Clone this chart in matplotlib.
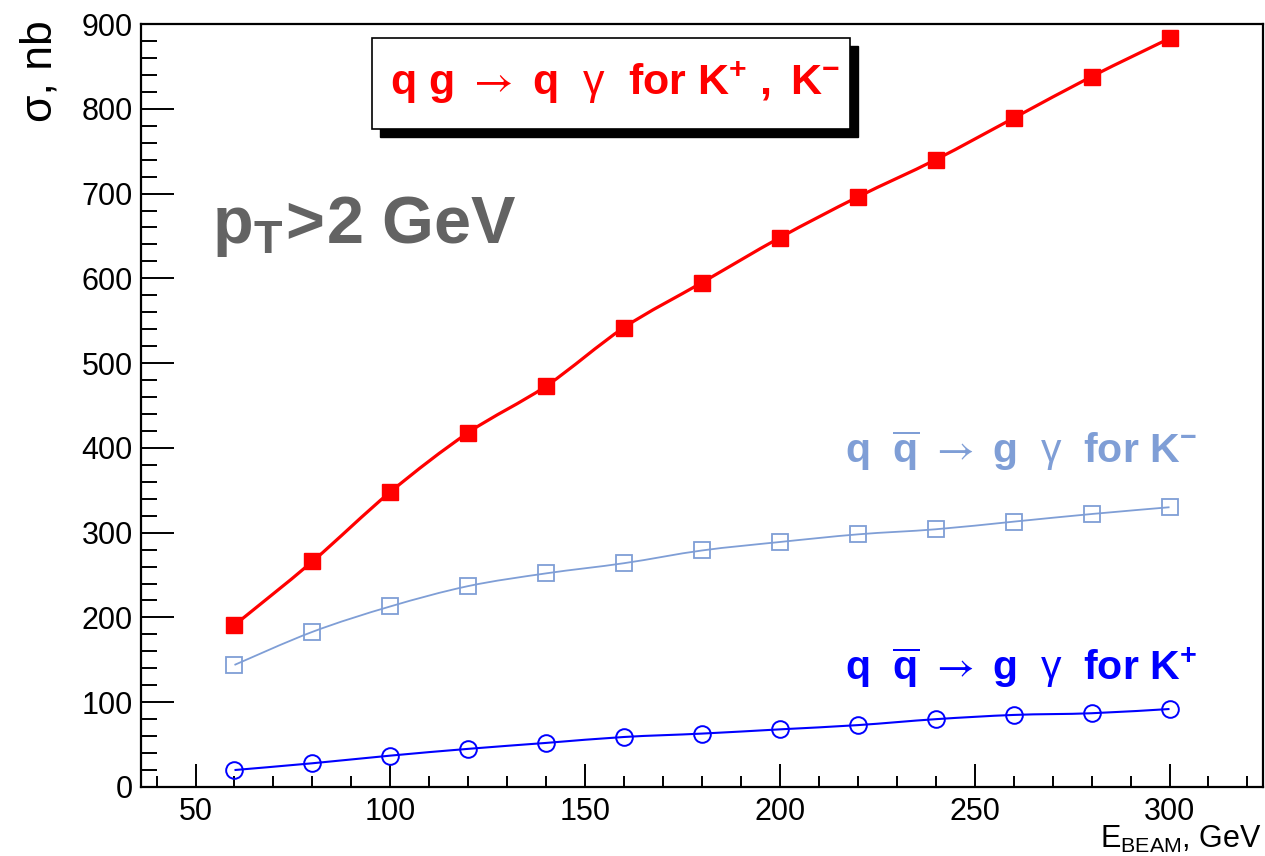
import matplotlib
matplotlib.use('Agg')
import matplotlib.pyplot as plt
from matplotlib.path import Path
from matplotlib.patches import PathPatch, Rectangle
from matplotlib.ticker import MultipleLocator
import numpy as np

# ---- data ----
E_beam = [60, 80, 100, 120, 140, 160, 180, 200, 220, 240, 260, 280, 300]
qg_K = [191, 266, 348, 418, 473, 542, 595, 648, 696, 740, 789, 838, 883]
qqbar_Kminus = [144, 183, 213, 237, 252, 264, 279, 289, 298, 304, 313, 322, 330]
qqbar_Kplus = [20, 28, 37, 45, 52, 59, 63, 68, 73, 80, 85, 87, 92]

label_qg = r"$\mathrm{q\ g\ }\mathcal{\rightarrow}\mathrm{\ q\ \ }\gamma\mathrm{\ \ for\ K^{+}\ ,\ K^{-}}$"
label_km = r"$\mathrm{q\ \ \overline{q}\ }\mathcal{\rightarrow}\mathrm{\ g\ \ }\gamma\mathrm{\ \ for\ K^{-}}$"
label_kp = r"$\mathrm{q\ \ \overline{q}\ }\mathcal{\rightarrow}\mathrm{\ g\ \ }\gamma\mathrm{\ \ for\ K^{+}}$"
label_cut = r"$\mathrm{p_{T}\!>\!2\ GeV}$"
xlabel = r"E$_{\mathsf{BEAM}}$, GeV"
ylabel = "σ, nb"

RED = '#ff0000'
LBLUE = '#7f9ed6'
BLUE = '#0000ff'
GRAY = '#636363'

plt.rcParams['font.family'] = ['Liberation Sans', 'DejaVu Sans']
plt.rcParams['mathtext.fontset'] = 'custom'
plt.rcParams['mathtext.rm'] = 'Liberation Sans:bold'
plt.rcParams['mathtext.bf'] = 'Liberation Sans:bold'
plt.rcParams['mathtext.it'] = 'Liberation Sans'
plt.rcParams['mathtext.sf'] = 'Liberation Sans'
plt.rcParams['mathtext.cal'] = 'STIXGeneral'

W, H = 1265, 856
fig = plt.figure(figsize=(W / 100, H / 100), dpi=100)
ax = fig.add_axes([141 / W, 1 - 787 / H, (1263 - 141) / W, (787 - 24) / H])
ax.set_xlim(36, 324)
ax.set_ylim(0, 900)


def smooth_path(xs, ys):
    p = np.column_stack([xs, ys]).astype(float)
    n = len(p)
    verts = [p[0]]
    codes = [Path.MOVETO]
    for i in range(n - 1):
        p0 = p[i - 1] if i > 0 else p[i]
        p1 = p[i]
        p2 = p[i + 1]
        p3 = p[i + 2] if i + 2 < n else p[i + 1]
        c1 = p1 + (p2 - p0) / 6.0
        c2 = p2 - (p3 - p1) / 6.0
        verts += [c1, c2, p2]
        codes += [Path.CURVE4] * 3
    return Path(verts, codes)


for ys, col, lw in [(qg_K, RED, 2.3), (qqbar_Kminus, LBLUE, 1.3), (qqbar_Kplus, BLUE, 1.5)]:
    ax.add_patch(PathPatch(smooth_path(E_beam, ys), facecolor='none', edgecolor=col, lw=lw, zorder=2))

ax.plot(E_beam, qg_K, ls='none', marker='s', ms=11, mfc=RED, mec=RED, zorder=3)
ax.plot(E_beam, qqbar_Kminus, ls='none', marker='s', ms=11.5, mfc='none', mec=LBLUE, mew=1.3, zorder=3)
ax.plot(E_beam, qqbar_Kplus, ls='none', marker='o', ms=12, mfc='none', mec=BLUE, mew=1.4, zorder=3)

# ticks
ax.xaxis.set_major_locator(MultipleLocator(50))
ax.xaxis.set_minor_locator(MultipleLocator(10))
ax.yaxis.set_major_locator(MultipleLocator(100))
ax.yaxis.set_minor_locator(MultipleLocator(20))
ax.tick_params(axis='both', which='both', direction='in', top=False, right=False, width=1.4, labelsize=22)
ax.tick_params(axis='x', which='major', length=16.5, pad=7)
ax.tick_params(axis='x', which='minor', length=8)
ax.tick_params(axis='y', which='major', length=24, pad=6)
ax.tick_params(axis='y', which='minor', length=11.5)
for s in ax.spines.values():
    s.set_linewidth(1.6)

# axis labels
fig.text(1262 / W, 1 - 848 / H, xlabel, ha='right', va='baseline', fontsize=22)
fig.text(40 / W, 1 - 20 / H, ylabel, rotation=90, ha='center', va='top', fontsize=32)

# title box with shadow
bx0, by0, bx1, by1 = 372, 38, 850, 129
sh = 8
fig.patches.append(Rectangle(((bx0 + sh) / W, 1 - (by1 + sh) / H), (bx1 - bx0) / W, (by1 - by0) / H,
                             transform=fig.transFigure, facecolor='black', edgecolor='black', lw=1, zorder=5))
fig.patches.append(Rectangle((bx0 / W, 1 - by1 / H), (bx1 - bx0) / W, (by1 - by0) / H,
                             transform=fig.transFigure, facecolor='white', edgecolor='black', lw=1.2, zorder=6))
fig.text(390 / W, 1 - 95 / H, label_qg, ha='left', va='baseline', fontsize=31, color=RED, zorder=7)

fig.text(845 / W, 1 - 463 / H, label_km, ha='left', va='baseline', fontsize=29.5, color=LBLUE)
fig.text(845 / W, 1 - 680 / H, label_kp, ha='left', va='baseline', fontsize=29.5, color=BLUE)
fig.text(212 / W, 1 - 243 / H, label_cut, ha='left', va='baseline', fontsize=48, color=GRAY)

fig.savefig('out.png', dpi=100)
